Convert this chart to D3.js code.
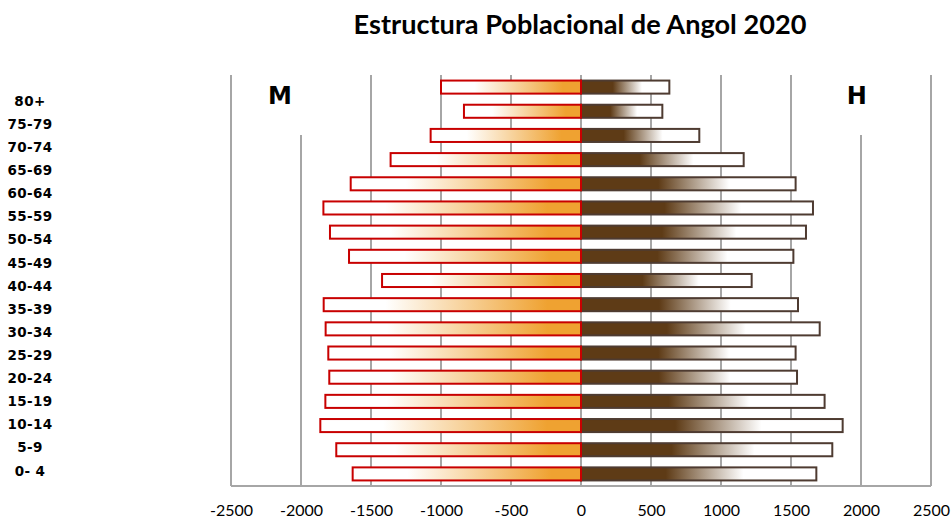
<!DOCTYPE html>
<html>
<head>
<meta charset="utf-8">
<script src="https://cdn.jsdelivr.net/npm/d3@7/dist/d3.min.js"></script>
<style>
  html, body { margin: 0; padding: 0; background: #fff; }
  svg { display: block; }
</style>
</head>
<body>
<svg id="chart" width="952" height="524"></svg>
<script>
// ---- data ----
const title = "Estructura Poblacional de Angol 2020";
const categories = ["80+","75-79","70-74","65-69","60-64","55-59","50-54","45-49","40-44","35-39","30-34","25-29","20-24","15-19","10-14","5-9","0- 4"];
const mujeres = [1000, 836, 1074, 1360, 1645, 1840, 1793, 1657, 1421, 1838, 1824, 1805, 1798, 1826, 1862, 1748, 1631];
const hombres = [631, 581, 845, 1162, 1533, 1657, 1607, 1517, 1219, 1550, 1705, 1533, 1543, 1740, 1869, 1795, 1681];
const tickValues = [-2500, -2000, -1500, -1000, -500, 0, 500, 1000, 1500, 2000, 2500];
const sexLabels = ["M", "H"];

const svg = d3.select("#chart");

const x = d3.scaleLinear().domain([-2500, 2500]).range([231, 931]);
const y = d3.scaleBand().domain(categories).range([75, 486]).paddingInner(0.46).paddingOuter(0.23);
const yLab = d3.scalePoint().domain(categories).range([101, 470.7]);

const defs = svg.append("defs");
const gF = defs.append("linearGradient").attr("id", "gradF").attr("x1", 0).attr("x2", 1).attr("y1", 0).attr("y2", 0);
gF.append("stop").attr("offset", 0).attr("stop-color", "#ffffff");
gF.append("stop").attr("offset", 0.24).attr("stop-color", "#ffffff");
gF.append("stop").attr("offset", 0.87).attr("stop-color", "#EFA231");
gF.append("stop").attr("offset", 1).attr("stop-color", "#EFA231");
const gM = defs.append("linearGradient").attr("id", "gradM").attr("x1", 0).attr("x2", 1).attr("y1", 0).attr("y2", 0);
gM.append("stop").attr("offset", 0).attr("stop-color", "#5E3B16");
gM.append("stop").attr("offset", 0.36).attr("stop-color", "#5E3B16");
gM.append("stop").attr("offset", 0.69).attr("stop-color", "#ffffff");
gM.append("stop").attr("offset", 1).attr("stop-color", "#ffffff");

// gridlines
svg.append("g").selectAll("line").data(tickValues).join("line")
  .attr("x1", d => x(d)).attr("x2", d => x(d))
  .attr("y1", 75).attr("y2", 486)
  .attr("stroke", "#A6A6A6").attr("stroke-width", 2);
svg.append("line").attr("x1", x(-2500)).attr("x2", x(2500)).attr("y1", 486).attr("y2", 486)
  .attr("stroke", "#A6A6A6").attr("stroke-width", 2);

// M / H labels with white backgrounds
const sexX = [x(-2150), x(1970)];
sexLabels.forEach((s, i) => {
  svg.append("rect").attr("x", sexX[i] - 45).attr("y", 74).attr("width", 90).attr("height", 61).attr("fill", "#fff");
  svg.append("text").attr("x", sexX[i]).attr("y", 104).attr("text-anchor", "middle")
    .attr("font-family", "DejaVu Sans").attr("font-weight", "bold").attr("font-size", 24)
    .attr("fill", "#000").text(s);
});

// male bars
svg.append("g").selectAll("rect").data(categories).join("rect")
  .attr("x", x(0))
  .attr("y", d => y(d))
  .attr("width", (d, i) => x(hombres[i]) - x(0))
  .attr("height", y.bandwidth())
  .attr("fill", "url(#gradM)")
  .attr("stroke", "#4E3B31").attr("stroke-width", 2);

// female bars
svg.append("g").selectAll("rect").data(categories).join("rect")
  .attr("x", (d, i) => x(-mujeres[i]))
  .attr("y", d => y(d))
  .attr("width", (d, i) => x(0) - x(-mujeres[i]))
  .attr("height", y.bandwidth())
  .attr("fill", "url(#gradF)")
  .attr("stroke", "#C80000").attr("stroke-width", 2);

// category labels
svg.append("g").selectAll("text").data(categories).join("text")
  .attr("x", 30).attr("y", d => yLab(d) + 4.8)
  .attr("text-anchor", "middle")
  .attr("font-family", "DejaVu Sans").attr("font-weight", "bold").attr("font-size", 13.5)
  .attr("letter-spacing", 0.4)
  .attr("fill", "#000")
  .text(d => d);

// x axis tick labels
const axis = d3.axisBottom(x).tickValues(tickValues).tickSize(0).tickPadding(0).tickFormat(d => String(d));
const ax = svg.append("g").attr("transform", "translate(0,504)").call(axis);
ax.select(".domain").remove();
ax.selectAll("text").attr("font-family", "Lato").attr("font-size", 16).attr("fill", "#000").attr("dy", "0.72em");

// title
const t = svg.append("text").attr("x", 580).attr("y", 34).attr("text-anchor", "middle")
  .attr("font-family", "Lato").attr("font-weight", "bold").attr("font-size", 20)
  .attr("fill", "#000").text(title);
const w = t.node().getComputedTextLength();
t.attr("font-size", 20 * 453 / w);
</script>
</body>
</html>
